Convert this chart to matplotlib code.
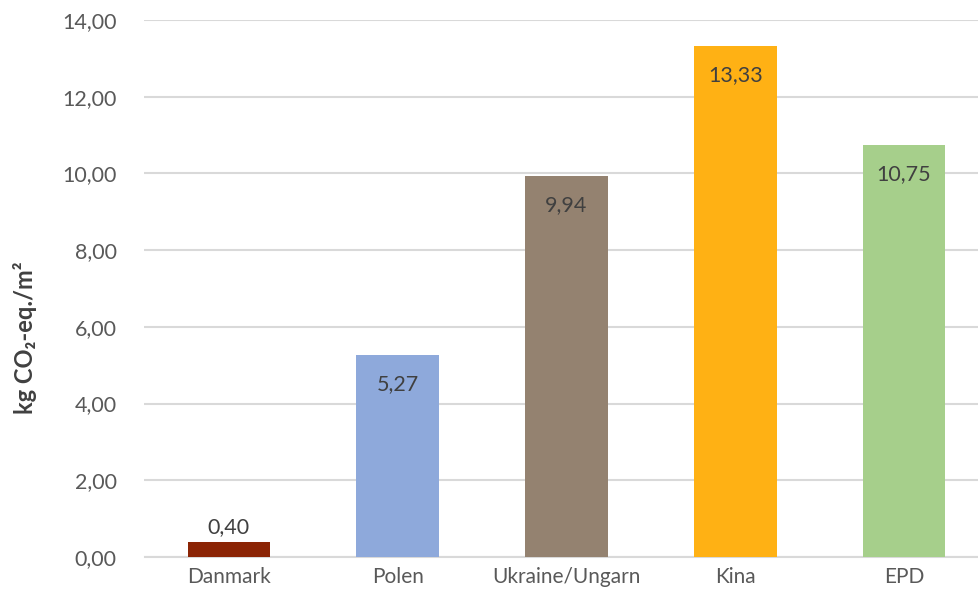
import matplotlib
matplotlib.use("Agg")
import matplotlib.pyplot as plt
from matplotlib.ticker import FuncFormatter

# Data
categories = ["Danmark", "Polen", "Ukraine/Ungarn", "Kina", "EPD"]
values = [0.40, 5.27, 9.94, 13.33, 10.75]
bar_colors = ["#8B2405", "#8EA9DB", "#948270", "#FFB114", "#A6CF8B"]
y_ticks = [0, 2, 4, 6, 8, 10, 12, 14]

plt.rcParams['font.family'] = ['Lato', 'DejaVu Sans']

fig = plt.figure(figsize=(9.79, 5.93), dpi=100)
# axes spill a little past the right edge, like the cropped original
ax = fig.add_axes([144.5 / 979, 1 - 557 / 593, (988.5 - 144.5) / 979, (557 - 20) / 593])

x = list(range(len(categories)))
bars = ax.bar(x, values, width=0.49, color=bar_colors, zorder=3)

ax.set_xlim(-0.5, len(categories) - 0.5)
ax.set_ylim(0, 14)
ax.set_yticks(y_ticks)
ax.yaxis.set_major_formatter(FuncFormatter(lambda v, p: f"{v:.2f}".replace(".", ",")))
ax.set_xticks(x)
ax.set_xticklabels(categories)

ax.grid(axis="y", color="#D9D9D9", linewidth=1.5, zorder=0)
for side in ["top", "right", "left"]:
    ax.spines[side].set_visible(False)
ax.spines["bottom"].set_color("#D9D9D9")
ax.spines["bottom"].set_linewidth(1.5)
ax.tick_params(axis="both", length=0, colors="#595959")
ax.tick_params(axis="y", labelsize=15.5, pad=20)
ax.tick_params(axis="x", labelsize=15, pad=7)

# value labels: inside end, or above when the bar is too short
for rect, val in zip(bars, values):
    label = f"{val:.2f}".replace(".", ",")
    cx = rect.get_x() + rect.get_width() / 2
    if val < 1:
        ax.annotate(label, (cx, val), xytext=(0, 3), textcoords="offset points",
                    ha="center", va="bottom", fontsize=15.5, color="#404040")
    else:
        ax.annotate(label, (cx, val), xytext=(0, -21), textcoords="offset points",
                    ha="center", va="center", fontsize=15.5, color="#404040")

fig.text(25 / 979, 1 - 338 / 593, "kg CO₂-eq./m²", rotation=90, ha="center", va="center",
         fontsize=17, fontweight="bold", color="#404040")

fig.savefig("out.png", dpi=100)
